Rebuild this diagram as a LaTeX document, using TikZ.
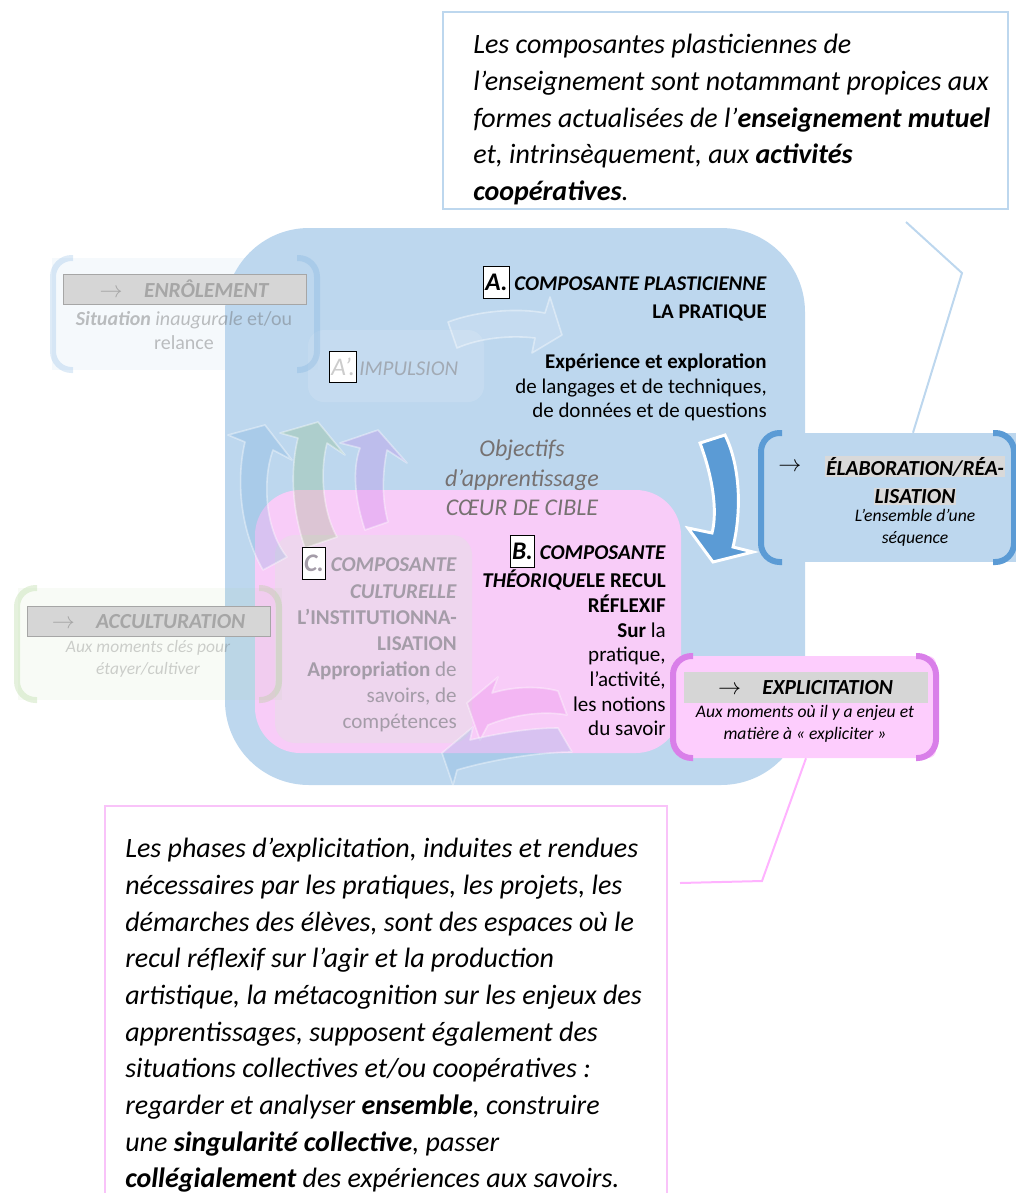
\documentclass[tikz,border=0pt]{standalone}
\usepackage{fontspec}
\setmainfont{Carlito}
\usepackage{xcolor}
\usetikzlibrary{positioning,calc}
\definecolor{mainblue}{HTML}{BDD7EE}
\definecolor{arrowblue}{HTML}{5B9BD5}
\definecolor{corepink}{HTML}{F8CCF8}
\definecolor{culturepink}{HTML}{EED6EE}
\definecolor{explpink}{HTML}{FDCDFD}
\definecolor{explviolet}{HTML}{D97FE9}
\definecolor{hlgrey}{HTML}{D9D9D9}
\definecolor{bargrey}{HTML}{D6D6D6}
\definecolor{fadegrey}{HTML}{A6A6A6}
\definecolor{objgrey}{HTML}{767171}
\definecolor{culturegrey}{HTML}{A49CA8}
\definecolor{impulsgrey}{HTML}{A2AAB4}
\definecolor{callpink}{HTML}{F9C3F9}
\definecolor{linkpink}{HTML}{FFB3FF}
\definecolor{accugreen}{HTML}{A9D18E}
\definecolor{greenarrow}{HTML}{70AD47}
\definecolor{violetarrow}{HTML}{C070E8}
\definecolor{pinkarrow}{HTML}{E060E0}

\newcommand{\px}{0.75pt}
\setlength{\fboxsep}{0.8pt}
\setlength{\fboxrule}{0.6pt}
\newcommand{\lettre}[2][black]{{\setlength{\fboxsep}{1pt}\fcolorbox{black}{white}{\rule[-4.5pt]{0pt}{21pt}\textcolor{#1}{\fontsize{19}{19}\selectfont\textbf{\textit{#2}}}}}}
\newcommand{\lettrefine}[2][black]{{\setlength{\fboxsep}{1pt}\fcolorbox{black}{white}{\rule[-4.5pt]{0pt}{21pt}\textcolor{#1}{\fontsize{19}{19}\selectfont\textit{#2}}}}}
\newcommand{\surligne}[1]{\colorbox{hlgrey}{#1}}
\newcommand{\fcall}{\fontsize{21}{27.5}\selectfont}
\newcommand{\fblocA}{\fontsize{15.7}{18.4}\selectfont}
\newcommand{\fblocB}{\fontsize{15.8}{18.5}\selectfont}
\newcommand{\fblocC}{\fontsize{15.8}{19.5}\selectfont}
\newcommand{\fobj}{\fontsize{18}{22.1}\selectfont}
\newcommand{\fhead}{\fontsize{16.1}{21}\selectfont}
\newcommand{\fsub}{\fontsize{15}{18}\selectfont}
\newcommand{\fsmall}{\fontsize{13.2}{16.2}\selectfont}

\begin{document}
\begin{tikzpicture}[x=0.75pt, y=-0.75pt,
    bloc/.style={inner sep=0pt, align=right, anchor=north east},
    faintarrow/.style={draw=white, draw opacity=0.4, line width=1.2pt, line join=round},
    bracket/.style={line width=4.5pt, rounded corners=14pt},
    headbar/.style={fill=bargrey, draw=fadegrey, line width=0.6pt, inner sep=0pt,
      minimum width=243*\px, minimum height=30*\px},
    subtxt/.style={inner sep=0pt, align=center, anchor=north}]
\useasboundingbox (0,0) rectangle (1016,1193);

% cadre de la pratique et coeur de cible
\node[fill=mainblue, rounded corners=63pt, inner sep=0pt,
  minimum width=580*\px, minimum height=557*\px] (pratique) at (515,506.5) {};
\node[fill=corepink, rounded corners=34pt, inner sep=0pt,
  minimum width=426*\px, minimum height=263*\px] (theorie) at (468,621.5) {};
\node[fill=culturepink, rounded corners=15pt, inner sep=0pt,
  minimum width=197*\px, minimum height=208*\px] (culture) at (373.5,639) {};
\node[fill=white, fill opacity=0.12, rounded corners=12pt, inner sep=0pt,
  minimum width=176*\px, minimum height=72*\px] (impulsbox) at (396,366) {};

% fleches discretes
\draw[faintarrow, fill=white, fill opacity=0.12] (448,322) .. controls (480,310) and (520,308) .. (545,313)
  -- (550,297) -- (562,335) -- (532,353) -- (535,338) .. controls (510,335) and (480,338) .. (457,348) -- cycle;
\draw[faintarrow, fill=arrowblue, fill opacity=0.2] (263,570) .. controls (240,530) and (236,480) .. (245,442)
  -- (228,435) -- (265,425) -- (292,460) -- (273,450) .. controls (262,480) and (265,530) .. (287,557) -- cycle;
\draw[faintarrow, fill=greenarrow, fill opacity=0.2] (305,548) .. controls (292,510) and (290,470) .. (298,438)
  -- (280,433) -- (318,422) -- (345,455) -- (327,443) .. controls (320,470) and (322,510) .. (337,537) -- cycle;
\draw[faintarrow, fill=violetarrow, fill opacity=0.25] (365,530) .. controls (355,500) and (352,470) .. (360,448)
  -- (340,443) -- (378,430) -- (407,463) -- (387,450) .. controls (382,475) and (382,500) .. (388,522) -- cycle;
\draw[faintarrow, fill=pinkarrow, fill opacity=0.2] (467,703) -- (498,677) -- (492,693)
  .. controls (515,686) and (540,686) .. (558,691) -- (567,715) .. controls (540,710) and (510,716) .. (488,725)
  -- (480,740) -- cycle;
\draw[faintarrow, fill=arrowblue, fill opacity=0.2] (442,753) -- (473,727) -- (470,740)
  .. controls (500,733) and (530,728) .. (558,728) -- (572,752) .. controls (540,752) and (490,760) .. (457,770)
  -- (453,785) -- cycle;
% fleche vers l'elaboration
\draw[fill=arrowblue, draw=white, line width=2.2pt] (700,443) .. controls (712,475) and (718,510) .. (712,533)
  -- (688,528) -- (713,562) -- (753,552) -- (733,547) .. controls (742,510) and (740,465) .. (725,435) -- cycle;

% textes des composantes
\node[bloc, font=\fblocA] (plasttxt) at (767,266)
  {\lettre{A.} \textbf{\textit{COMPOSANTE PLASTICIENNE}}\\[3pt] \textbf{LA PRATIQUE}\\[19pt]
   \textbf{Expérience et exploration}\\ de langages et de techniques,\\ de données et de questions};
\node[bloc, font=\fblocB] (theotxt) at (666,535)
  {\lettre{B.} \textbf{\textit{COMPOSANTE}}\\[1pt] \textbf{\textit{THÉORIQUE}}\textbf{LE RECUL}\\ \textbf{RÉFLEXIF}\\
   \textbf{Sur} la\\ pratique,\\ l’activité,\\ les notions\\ du savoir};
\node[bloc, font=\fblocC, text=culturegrey] (culttxt) at (457,547)
  {\lettre[culturegrey]{C.} \textbf{\textit{COMPOSANTE}}\\[1pt] \textbf{\textit{CULTURELLE}}\\ \textbf{L’INSTITUTIONNA-}\\
   \textbf{LISATION}\\ \textbf{Appropriation} de\\ savoirs, de\\ compétences};
\node[font=\fobj\itshape, text=objgrey, subtxt] (objtxt) at (522,440)
  {Objectifs\\ d’apprentissage\\ CŒUR DE CIBLE};
\node[inner sep=0pt, anchor=west] (impulstxt) at (329,367)
  {\lettrefine[black!20]{A’.}\,\textcolor{impulsgrey}{\fontsize{15.8}{18}\selectfont\itshape IMPULSION}};

% elaboration
\node[fill=mainblue, inner sep=0pt, minimum width=246*\px, minimum height=129*\px] (elab) at (895,497.5) {};
\draw[bracket, arrowblue] (782,433) -- (761,433) -- (761,562) -- (782,562);
\draw[bracket, arrowblue] (993,433) -- (1014,433) -- (1014,562) -- (993,562);
\node[font=\fhead] (elabarrow) at (790,467) {$\rightarrow$};
\node[font=\fhead\bfseries\itshape, subtxt] (elabtitle) at (915,456)
  {\surligne{ÉLABORATION/RÉA-}\\ \surligne{LISATION}};
\node[font=\fsmall\itshape, subtxt] (elabsub) at (915,509) {L’ensemble d’une\\ séquence};

% explicitation
\node[fill=explpink, rounded corners=6pt, inner sep=0pt, minimum width=260*\px, minimum height=102*\px] (expl) at (806,707) {};
\draw[bracket, explviolet] (693,656) -- (673,656) -- (673,758) -- (693,758);
\draw[bracket, explviolet] (916,656) -- (936,656) -- (936,758) -- (916,758);
\node[headbar, draw=hlgrey!70!black!40] (explbar) at (805.5,687.5) {};
\node[font=\fhead] (expltitle) at (explbar) {$\rightarrow$\hspace{16pt}\textbf{\textit{EXPLICITATION}}};
\node[font=\fsmall\itshape, subtxt] (explsub) at (805,705) {Aux moments où il y a enjeu et\\ matière à « expliciter »};

% enrolement
\node[fill=mainblue, fill opacity=0.15, inner sep=0pt, minimum width=266*\px, minimum height=112*\px] (enrol) at (185,314) {};
\draw[bracket, arrowblue, opacity=0.2] (73,258) -- (53,258) -- (53,370) -- (73,370);
\draw[bracket, arrowblue, opacity=0.2] (297,258) -- (317,258) -- (317,370) -- (297,370);
\node[headbar] (enrolbar) at (184.5,289) {};
\node[font=\fhead, text=fadegrey] (enroltitle) at (enrolbar) {$\rightarrow$\hspace{16pt}\textbf{\textit{ENRÔLEMENT}}};
\node[font=\fsub, text=black!62, text opacity=0.4, subtxt] (enrolsub) at (184,311)
  {\textbf{\textit{Situation}} \textit{inaugurale} et/ou\\ relance};

% acculturation
\node[fill=accugreen, fill opacity=0.08, inner sep=0pt, minimum width=264*\px, minimum height=112*\px] (accu) at (150,644) {};
\draw[bracket, accugreen, opacity=0.3] (37,588) -- (17,588) -- (17,700) -- (37,700);
\draw[bracket, accugreen, opacity=0.3] (259,588) -- (279,588) -- (279,700) -- (259,700);
\node[headbar] (accubar) at (148.5,621.5) {};
\node[font=\fhead, text=fadegrey] (accutitle) at (accubar) {$\rightarrow$\hspace{16pt}\textbf{\textit{ACCULTURATION}}};
\node[font=\fontsize{13.1}{16.5}\selectfont\itshape, text=black!62, text opacity=0.3, subtxt] (accusub) at (148,640)
  {Aux moments clés pour\\ étayer/cultiver};

% encadres de commentaire
\node[draw=mainblue, line width=1.5pt, fill=white, inner sep=0pt,
  minimum width=565*\px, minimum height=197*\px] (callplast) at (725.5,110.5) {};
\node[font=\fcall\itshape, align=left, anchor=north west, inner sep=0pt] (callplasttxt) at (473,34)
  {Les composantes plasticiennes de\\ l’enseignement sont notammant propices aux\\
   formes actualisées de l’\textbf{enseignement mutuel}\\ et, intrinsèquement, aux \textbf{activités}\\
   \textbf{coopératives}.};
\coordinate (pA1) at (906,222);
\coordinate (pA2) at (962,273);
\draw[mainblue, line width=1.5pt] (pA1) -- (pA2) -- ($(elab.north)+(18,0)$);

\draw[callpink, line width=1.5pt] (105,1200) -- (105,806) -- (667,806) -- (667,1200);
\node[font=\fcall\itshape, align=left, anchor=north west, inner sep=0pt] (callexpltxt) at (125,838)
  {Les phases d’explicitation, induites et rendues\\ nécessaires par les pratiques, les projets, les\\
   démarches des élèves, sont des espaces où le\\ recul réflexif sur l’agir et la production\\
   artistique, la métacognition sur les enjeux des\\ apprentissages, supposent également des\\
   situations collectives et/ou coopératives :\\ regarder et analyser \textbf{ensemble}, construire\\
   une \textbf{singularité collective}, passer\\ \textbf{collégialement} des expériences aux savoirs.};
\coordinate (pE1) at (762,881);
\coordinate (pE2) at (680,883);
\draw[linkpink, line width=1.5pt] (expl.south) -- (pE1) -- (pE2);
\end{tikzpicture}
\end{document}
